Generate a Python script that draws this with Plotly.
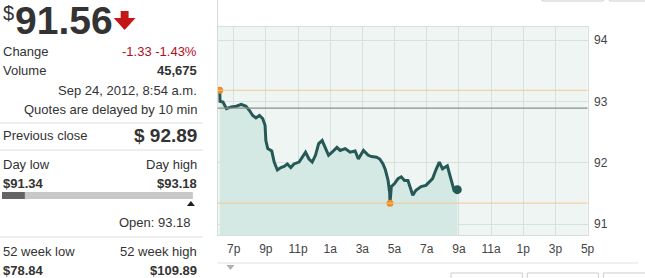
import plotly.graph_objects as go

# ---------------- data ----------------
times = ["2012-09-23 18:08", "2012-09-23 18:09", "2012-09-23 18:20", "2012-09-23 18:33",
         "2012-09-23 18:51", "2012-09-23 19:10", "2012-09-23 19:28", "2012-09-23 19:46",
         "2012-09-23 19:59", "2012-09-23 20:11", "2012-09-23 20:23", "2012-09-23 20:36",
         "2012-09-23 20:48", "2012-09-23 20:57", "2012-09-23 21:00", "2012-09-23 21:07",
         "2012-09-23 21:22", "2012-09-23 21:31", "2012-09-23 21:43", "2012-09-23 21:56",
         "2012-09-23 22:08", "2012-09-23 22:20", "2012-09-23 22:33", "2012-09-23 22:45",
         "2012-09-23 23:04", "2012-09-23 23:16", "2012-09-23 23:28", "2012-09-23 23:41",
         "2012-09-23 23:53", "2012-09-24 00:05", "2012-09-24 00:17", "2012-09-24 00:30",
         "2012-09-24 00:42", "2012-09-24 00:54", "2012-09-24 01:07", "2012-09-24 01:25",
         "2012-09-24 01:37", "2012-09-24 01:56", "2012-09-24 02:14", "2012-09-24 02:33",
         "2012-09-24 02:45", "2012-09-24 03:04", "2012-09-24 03:22", "2012-09-24 03:34",
         "2012-09-24 03:53", "2012-09-24 04:05", "2012-09-24 04:17", "2012-09-24 04:26",
         "2012-09-24 04:36", "2012-09-24 04:42", "2012-09-24 04:43", "2012-09-24 04:48",
         "2012-09-24 05:00", "2012-09-24 05:13", "2012-09-24 05:25", "2012-09-24 05:37",
         "2012-09-24 05:50", "2012-09-24 06:08", "2012-09-24 06:20", "2012-09-24 06:39",
         "2012-09-24 06:57", "2012-09-24 07:10", "2012-09-24 07:22", "2012-09-24 07:34",
         "2012-09-24 07:47", "2012-09-24 07:59", "2012-09-24 08:17", "2012-09-24 08:30",
         "2012-09-24 08:42", "2012-09-24 08:54"]
prices = [93.18, 93.00, 92.99, 92.88, 92.91, 92.92, 92.95, 92.92,
          92.85, 92.77, 92.73, 92.77, 92.72, 92.61, 92.36, 92.23,
          92.19, 92.01, 91.88, 91.92, 91.94, 91.98, 91.92, 91.98,
          92.01, 92.08, 92.17, 92.06, 92.01, 92.12, 92.31, 92.36,
          92.25, 92.12, 92.17, 92.25, 92.20, 92.23, 92.17, 92.19,
          92.06, 92.20, 92.12, 92.10, 92.09, 92.06, 91.98, 91.88,
          91.71, 91.50, 91.34, 91.61, 91.66, 91.74, 91.77, 91.71,
          91.71, 91.47, 91.55, 91.61, 91.63, 91.69, 91.74, 91.88,
          92.01, 91.90, 91.95, 91.74, 91.55, 91.56]

tick_vals = ["2012-09-23 19:00", "2012-09-23 21:00", "2012-09-23 23:00", "2012-09-24 01:00",
             "2012-09-24 03:00", "2012-09-24 05:00", "2012-09-24 07:00", "2012-09-24 09:00",
             "2012-09-24 11:00", "2012-09-24 13:00", "2012-09-24 15:00", "2012-09-24 17:00"]
tick_text = ["7p", "9p", "11p", "1a", "3a", "5a", "7a", "9a", "11a", "1p", "3p", "5p"]
y_ticks = [91, 92, 93, 94]

last_price = 91.56
change = -1.33
change_pct = -1.43
volume = 45675
quote_time = "Sep 24, 2012, 8:54 a.m."
prev_close = 92.89
day_low = 91.34
day_high = 93.18
open_price = 93.18
wk52_low = 78.84
wk52_high = 109.89

# ---------------- helpers ----------------
W, H = 645, 278
def px(x):
    return x / W
def py(y):
    return 1 - y / H

FONT = "Liberation Sans, Arial, sans-serif"
TXT = "#333333"

line_col = "rgb(38,88,86)"
fill_col = "rgb(212,233,228)"
bg_col = "rgb(239,245,242)"
grid_col = "rgb(214,224,220)"
orange_line = "rgb(242,200,150)"
orange_dot = "rgb(238,140,40)"

fig = go.Figure()

fig.add_trace(go.Scatter(
    x=times, y=prices, mode="lines",
    line=dict(color=line_col, width=3),
    fill="tozeroy", fillcolor=fill_col,
    hoverinfo="skip"))

low_idx = prices.index(min(prices))
fig.add_trace(go.Scatter(
    x=[times[0], times[low_idx]], y=[prices[0], prices[low_idx]],
    mode="markers", marker=dict(color=orange_dot, size=7), hoverinfo="skip"))
fig.add_trace(go.Scatter(
    x=[times[-1]], y=[prices[-1]], mode="markers",
    marker=dict(color=line_col, size=9), hoverinfo="skip"))

shapes = []
# reference lines
for val, col, w in [(day_high, orange_line, 1), (day_low, orange_line, 1), (prev_close, "rgb(140,140,140)", 1.2)]:
    shapes.append(dict(type="line", xref="x domain", yref="y", x0=0, x1=1, y0=val, y1=val,
                       line=dict(color=col, width=w), layer="above"))

# left panel separators
for yy in [123, 150, 237]:
    shapes.append(dict(type="line", xref="paper", yref="paper", x0=px(0), x1=px(205),
                       y0=py(yy), y1=py(yy), line=dict(color="rgb(222,222,222)", width=1)))

# range bar
bar_l, bar_r = 2, 195
frac = (last_price - day_low) / (day_high - day_low)
shapes.append(dict(type="rect", xref="paper", yref="paper", x0=px(bar_l), x1=px(bar_r),
                   y0=py(199), y1=py(192), fillcolor="rgb(200,200,200)", line=dict(width=0)))
shapes.append(dict(type="rect", xref="paper", yref="paper", x0=px(bar_l),
                   x1=px(bar_l + frac * (bar_r - bar_l)),
                   y0=py(199), y1=py(192), fillcolor="rgb(100,100,100)", line=dict(width=0)))
ofrac = (open_price - day_low) / (day_high - day_low)
ox = bar_l + ofrac * (bar_r - bar_l) - 2
shapes.append(dict(type="path", xref="paper", yref="paper",
                   path=f"M {px(ox-4)} {py(206)} L {px(ox+4)} {py(206)} L {px(ox)} {py(201)} Z",
                   fillcolor="rgb(30,30,30)", line=dict(width=0)))

# red down arrow
ar = [(122, 11), (130, 11), (130, 18), (137, 18), (126, 30), (115, 18), (122, 18)]
path = "M " + " L ".join(f"{px(a)} {py(b)}" for a, b in ar) + " Z"
shapes.append(dict(type="path", xref="paper", yref="paper", path=path,
                   fillcolor="rgb(196,22,22)", line=dict(width=0)))

# chart frame details
shapes.append(dict(type="line", xref="paper", yref="paper", x0=px(220), x1=px(220),
                   y0=py(0), y1=py(27), line=dict(color="rgb(215,215,215)", width=1)))
shapes.append(dict(type="line", xref="paper", yref="paper", x0=px(220), x1=px(645),
                   y0=py(263), y1=py(263), line=dict(color="rgb(225,225,225)", width=1)))
shapes.append(dict(type="path", xref="paper", yref="paper",
                   path=f"M {px(229)} {py(265)} L {px(237)} {py(265)} L {px(233)} {py(270)} Z",
                   fillcolor="rgb(170,178,185)", line=dict(width=0)))
for a, b in [(456, 528), (533, 605), (610, 660)]:
    shapes.append(dict(type="rect", xref="paper", yref="paper", x0=px(a), x1=px(b),
                       y0=py(290), y1=py(273), fillcolor="white",
                       line=dict(color="rgb(205,205,205)", width=1)))
for a, b in [(548, 610), (616, 660)]:
    shapes.append(dict(type="rect", xref="paper", yref="paper", x0=px(a), x1=px(b),
                       y0=py(1), y1=py(-10), fillcolor="white",
                       line=dict(color="rgb(205,205,205)", width=1)))

ann = []
def t(x, y, s, size=13, color=TXT, anchor="left", bold=False, yanchor="middle"):
    if bold:
        s = f"<b>{s}</b>"
    ann.append(dict(x=px(x), y=py(y), xref="paper", yref="paper", text=s, showarrow=False,
                    xanchor=anchor, yanchor=yanchor, font=dict(family=FONT, size=size, color=color)))

t(1, 13, "$", size=20)
t(13, 20, f"{last_price:.2f}", size=39, bold=True)
t(1, 52, "Change")
t(201, 52, f"{change:.2f} {change_pct:.2f}%", color="rgb(176,14,30)", anchor="right")
t(1, 71, "Volume")
t(201, 71, f"{volume:,}", anchor="right", bold=True)
t(201, 90, quote_time, anchor="right")
t(201, 109, "Quotes are delayed by 10 min", anchor="right")
t(1, 135, "Previous close")
t(201, 135, f"$ {prev_close:.2f}", size=19, anchor="right", bold=True)
t(1, 164, "Day low")
t(201, 164, "Day high", anchor="right")
t(1, 183, f"${day_low:.2f}", bold=True)
t(201, 183, f"${day_high:.2f}", anchor="right", bold=True)
t(195, 222, f"Open: {open_price:.2f}", anchor="right")
t(1, 251, "52 week low")
t(201, 251, "52 week high", anchor="right")
t(1, 270, f"${wk52_low:.2f}", bold=True)
t(201, 270, f"${wk52_high:.2f}", anchor="right", bold=True)

fig.update_layout(
    width=W, height=H, margin=dict(l=0, r=0, t=0, b=0),
    paper_bgcolor="white", plot_bgcolor=bg_col, showlegend=False,
    shapes=shapes, annotations=ann,
    xaxis=dict(domain=[px(220), px(594)], type="date",
               range=["2012-09-23 18:00", "2012-09-24 17:00"],
               tickvals=tick_vals, ticktext=tick_text,
               showgrid=True, gridcolor=grid_col, gridwidth=1,
               showline=True, linecolor="rgb(215,222,220)", mirror=True,
               ticks="outside", ticklen=3, tickcolor="rgba(0,0,0,0)",
               tickfont=dict(family=FONT, size=12, color="#444"), zeroline=False),
    yaxis=dict(domain=[py(235), py(27)], range=[90.821, 94.212], side="right",
               tickvals=y_ticks, ticktext=[str(v) for v in y_ticks],
               showgrid=True, gridcolor=grid_col, gridwidth=1,
               showline=True, linecolor="rgb(215,222,220)", mirror=True,
               ticks="outside", ticklen=3, tickcolor="rgba(0,0,0,0)",
               tickfont=dict(family=FONT, size=12, color="#444"), zeroline=False),
)

fig.write_html("out.html")
